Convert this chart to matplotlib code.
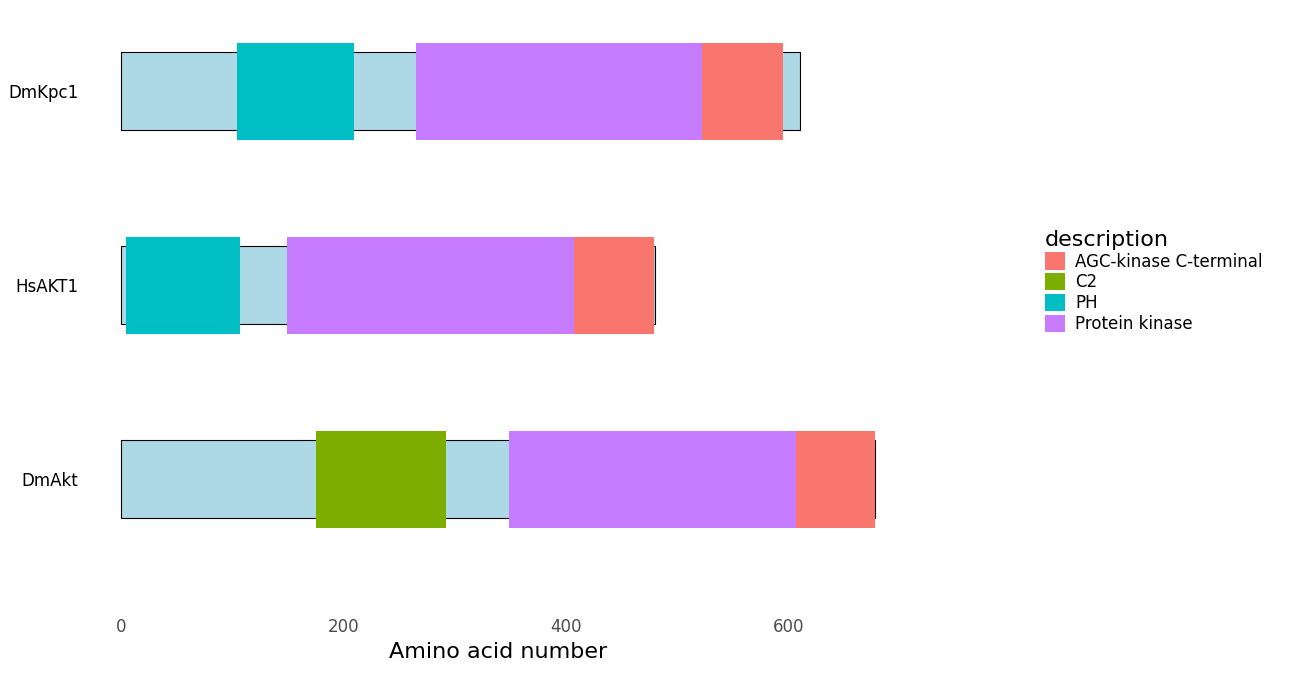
import matplotlib
matplotlib.use("Agg")
import matplotlib.pyplot as plt
from matplotlib.patches import Patch

# proteins (bottom to top) and chain lengths
proteins = ["DmAkt", "HsAKT1", "DmKpc1"]
lengths = [678, 480, 610]

# domains: (protein, description, start, end)
domains = [
    ("DmKpc1", "PH", 104, 210),
    ("DmKpc1", "Protein kinase", 265, 522),
    ("DmKpc1", "AGC-kinase C-terminal", 522, 595),
    ("HsAKT1", "PH", 5, 107),
    ("HsAKT1", "Protein kinase", 149, 407),
    ("HsAKT1", "AGC-kinase C-terminal", 407, 479),
    ("DmAkt", "C2", 175, 292),
    ("DmAkt", "Protein kinase", 349, 607),
    ("DmAkt", "AGC-kinase C-terminal", 607, 678),
]

legend_order = ["AGC-kinase C-terminal", "C2", "PH", "Protein kinase"]
colors = {
    "AGC-kinase C-terminal": "#F8766D",
    "C2": "#7CAE00",
    "PH": "#00BFC4",
    "Protein kinase": "#C77CFF",
}

fig = plt.figure(figsize=(13, 6.77), dpi=100)
ax = fig.add_axes([83 / 1300, 1 - 610 / 677, (913 - 83) / 1300, 610 / 677])

ypos = {p: i + 1 for i, p in enumerate(proteins)}
for p, L in zip(proteins, lengths):
    ax.barh(ypos[p], L, height=0.4, left=0, color="#ADD8E6", edgecolor="black", linewidth=0.8)
for p, d, s, e in domains:
    ax.barh(ypos[p], e - s, height=0.5, left=s, color=colors[d], linewidth=0)

ax.set_xlim(-34, 712)
ax.set_ylim(0.325, 3.47)
ax.set_yticks([1, 2, 3])
ax.set_yticklabels(proteins, fontsize=11)
ax.set_xticks([0, 200, 400, 600])
ax.tick_params(axis="both", length=0, labelsize=12, colors="#4d4d4d")
for lab in ax.get_yticklabels():
    lab.set_color("black")
ax.tick_params(axis="x", pad=6)
ax.set_xlabel("Amino acid number", fontsize=16, labelpad=4)
for s in ax.spines.values():
    s.set_visible(False)

handles = [Patch(facecolor=colors[d], label=d) for d in legend_order]
fig.legend(handles=handles, title="description", loc="upper left",
           bbox_to_anchor=(1030 / 1300, 1 - 215 / 677), frameon=False,
           fontsize=12, title_fontsize=16, handlelength=1.2, handleheight=1.2,
           handletextpad=0.6, labelspacing=0.15, alignment="left")

fig.savefig("out.png", dpi=100)
